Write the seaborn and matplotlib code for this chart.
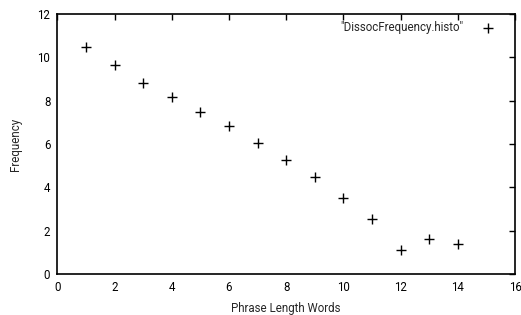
import matplotlib
matplotlib.use("Agg")
import matplotlib.pyplot as plt
import seaborn as sns
import pandas as pd

phrase_length = [1, 2, 3, 4, 5, 6, 7, 8, 9, 10, 11, 12, 13, 14]
frequency = [10.47, 9.63, 8.80, 8.15, 7.49, 6.83, 6.03, 5.25, 4.46, 3.52, 2.55, 1.09, 1.60, 1.38]
series_name = '"DissocFrequency.histo"'

x_ticks = [0, 2, 4, 6, 8, 10, 12, 14, 16]
y_ticks = [0, 2, 4, 6, 8, 10, 12]

sns.set_style("white")
plt.rcParams['font.family'] = ['Roboto', 'DejaVu Sans']

df = pd.DataFrame({"x": phrase_length, "y": frequency})

fig = plt.figure(figsize=(5.21, 3.15), dpi=100)
ax = fig.add_axes([0.110, 0.130, 0.8785, 0.826])

sns.scatterplot(data=df, x="x", y="y", marker="+", color="black",
                s=42, linewidth=1.0, label=series_name, ax=ax)

ax.set_xlim(0, 16)
ax.set_ylim(0, 12)
ax.set_xticks(x_ticks)
ax.set_yticks(y_ticks)
ax.tick_params(direction="in", length=4, width=1, top=True, right=True,
               labelsize=8.3, pad=5, color="black", labelcolor="black")
for s in ax.spines.values():
    s.set_color("black")
    s.set_linewidth(1.2)

ax.set_xlabel("Phrase Length Words", fontsize=8.3, labelpad=5.5)
ax.set_ylabel("Frequency", fontsize=8.3, labelpad=11)

leg = ax.legend(loc="upper right", bbox_to_anchor=(0.976, 0.99),
                frameon=False, markerfirst=False, fontsize=8.3,
                handletextpad=1.1, borderaxespad=0)

fig.savefig("out.png", dpi=100)
